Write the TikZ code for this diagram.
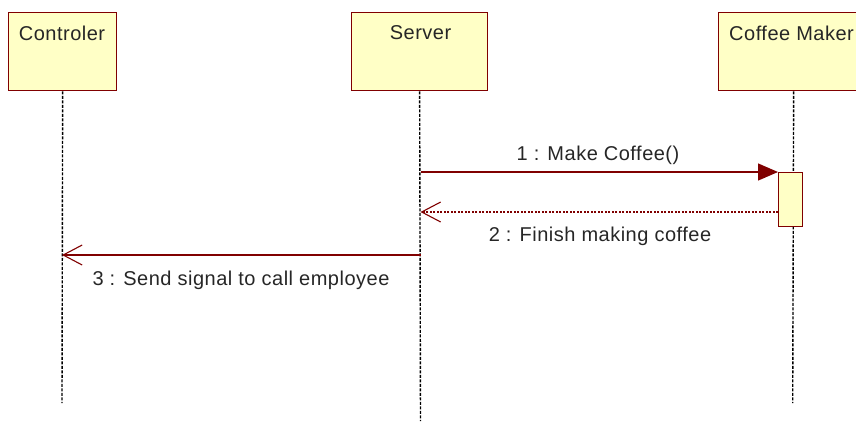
\documentclass[tikz,border=0pt]{standalone}
\usepackage{fontspec}
\setmainfont[LetterSpace=2.5]{Liberation Sans}
\usetikzlibrary{arrows.meta}
\definecolor{umlred}{HTML}{800000}
\definecolor{umlfill}{HTML}{FFFFC6}
\begin{document}
\begin{tikzpicture}[x=1pt,y=-1pt,
  actorbox/.style={draw=umlred,fill=umlfill,line width=1.3pt,minimum height=78pt,anchor=north west,inner sep=0pt},
  boxlabel/.style={font=\fontsize{20}{23}\selectfont,text=black!85},
  lifeline/.style={draw=black,line width=1.4pt,dash pattern=on 3pt off 1.5pt},
  activation/.style={draw=umlred,fill=umlfill,line width=1.2pt,inner sep=0pt,anchor=north west,minimum width=24pt,minimum height=54pt},
  callmsg/.style={draw=umlred,line width=1.3pt,-{Triangle[length=20pt,width=17pt]}},
  retmsg/.style={draw=umlred,line width=1.1pt,dash pattern=on 2pt off 1.5pt,-{Straight Barb[length=19pt,width=20pt,line width=1.1pt]}},
  asyncmsg/.style={draw=umlred,line width=1.3pt,-{Straight Barb[length=19pt,width=20pt,line width=1.1pt]}},
  msglabel/.style={font=\fontsize{20}{23}\selectfont,text=black!85}
]
\useasboundingbox (0,0) rectangle (856,421);
\begin{scope}
\clip (0,0) rectangle (856,421);
\node[actorbox,minimum width=108pt] (ctrl) at (8,12) {};
\node[actorbox,minimum width=136pt] (srv) at (351,12) {};
\node[actorbox,minimum width=150pt] (cm) at (718,12) {};
\node[boxlabel] (ctrlt) at (62,33) {Controler};
\node[boxlabel] (srvt) at (420.5,33) {Server};
\node[boxlabel,anchor=west,inner sep=0pt] (cmt) at (729,33) {Coffee Maker};
\end{scope}
\coordinate (ctrlend) at (62,403);
\coordinate (srvend) at (420.5,421);
\coordinate (cmend) at (792.7,403);
\draw[lifeline] (ctrl.south) -- (ctrlend);
\draw[lifeline] (srv.south) -- (srvend);
\draw[lifeline] (cm.south) -- (cmend);
\node[activation] (act) at (778,172) {};
\coordinate (m1s) at (420.5,172);
\coordinate (m2e) at (420.5,212);
\coordinate (m2s) at (778,212);
\coordinate (m3s) at (420.5,255);
\coordinate (m3e) at (62,255);
\draw[callmsg] (m1s) -- (act.north west);
\draw[retmsg] (m2s) -- (m2e);
\draw[asyncmsg] (m3s) -- (m3e);
\node[msglabel] (l1) at (598,155) {1 : Make Coffee()};
\node[msglabel] (l2) at (600,236) {2 : Finish making coffee};
\node[msglabel] (l3) at (241,280) {3 : Send signal to call employee};
\end{tikzpicture}
\end{document}
